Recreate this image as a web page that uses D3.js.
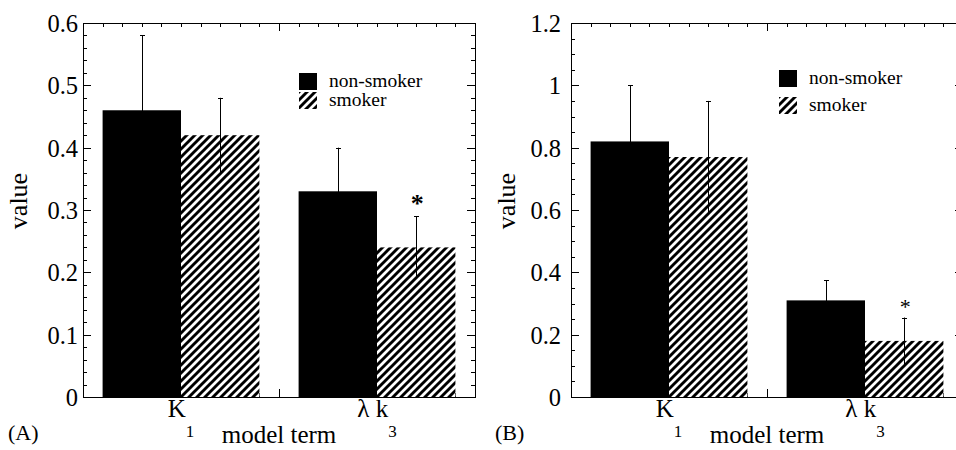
<!DOCTYPE html>
<html>
<head>
<meta charset="utf-8">
<script src="https://cdn.jsdelivr.net/npm/d3@7"></script>
<style>
  body { margin: 0; background: #fff; }
  text { font-family: "Liberation Serif", "Times New Roman", serif; }
</style>
</head>
<body>
<div id="chart"></div>
<script>
const categories = ['K', 'λ k'];
const subscripts = ['1', '3'];
const series = ['non-smoker', 'smoker'];

// panel A
const aNonSmoker = [0.46, 0.33];
const aNonSmokerErr = [0.12, 0.07];
const aSmoker = [0.42, 0.24];
const aSmokerErr = [0.06, 0.05];
const aStars = ['', '*'];

// panel B
const bNonSmoker = [0.82, 0.31];
const bNonSmokerErr = [0.18, 0.065];
const bSmoker = [0.77, 0.18];
const bSmokerErr = [0.18, 0.075];
const bStars = ['', '*'];

const width = 956;
const height = 450;
const plotW = 392;
const plotH = 374;
const serif = '"Liberation Serif", "Times New Roman", serif';

const svg = d3.select('#chart')
  .append('svg')
  .attr('width', width)
  .attr('height', height)
  .attr('font-family', serif);

// diagonal hatch for smokers
const pattern = svg.append('defs')
  .append('pattern')
  .attr('id', 'hatch')
  .attr('patternUnits', 'userSpaceOnUse')
  .attr('width', 8)
  .attr('height', 8);
pattern.append('rect').attr('width', 8).attr('height', 8).attr('fill', '#fff');
pattern.append('path')
  .attr('d', 'M-2,2 l4,-4 M0,8 l8,-8 M6,10 l4,-4')
  .attr('stroke', '#000')
  .attr('stroke-width', 2.9);

const fills = d3.scaleOrdinal(series, ['#000', 'url(#hatch)']);

const panels = [
  {
    left: 83, max: 0.6, major: 0.1, minor: 0.02, letter: '(A)', letterX: 8,
    values: [aNonSmoker, aSmoker], errs: [aNonSmokerErr, aSmokerErr], stars: aStars,
    legendX: 216, legendY: [50, 69], starSize: 26, starWeight: 'bold', labelGap: 5
  },
  {
    left: 571, max: 1.2, major: 0.2, minor: 0.05, letter: '(B)', letterX: 495,
    values: [bNonSmoker, bSmoker], errs: [bNonSmokerErr, bSmokerErr], stars: bStars,
    legendX: 208, legendY: [47, 74], starSize: 22, starWeight: 'normal', labelGap: 10
  }
];

panels.forEach(p => {
  const g = svg.append('g').attr('transform', `translate(${p.left}, 23)`);

  const y = d3.scaleLinear().domain([0, p.max]).range([plotH, 0]);
  const x = d3.scaleBand().domain(categories).range([0, plotW]);
  const xSub = d3.scaleBand().domain(series).range([0, x.bandwidth()]).paddingOuter(0.25);
  const xLin = d3.scaleLinear().domain([0, 2]).range([0, plotW]);

  const yMajor = d3.range(0, p.max + 1e-9, p.major);
  const yMinor = d3.range(0, p.max + 1e-9, p.minor);
  const xMinor = d3.range(0, 2.0001, 0.1);

  // y tick labels
  const left = g.append('g')
    .call(d3.axisLeft(y).tickValues(yMajor).tickSize(0).tickPadding(p.labelGap).tickFormat(d3.format('~g')));
  left.attr('font-family', serif);
  left.select('.domain').remove();
  left.selectAll('text').attr('font-size', 24.5).attr('fill', '#000').attr('dy', '0.34em');

  // inward ticks on all four sides
  const tickG = g.append('g').attr('stroke', '#000').attr('stroke-width', 1);
  [0, plotW].forEach((edge, k) => {
    const dir = k === 0 ? 1 : -1;
    tickG.selectAll(null).data(yMinor).enter().append('line')
      .attr('x1', edge).attr('x2', edge + dir * 4)
      .attr('y1', d => Math.round(y(d)) + 0.5).attr('y2', d => Math.round(y(d)) + 0.5);
    tickG.selectAll(null).data(yMajor).enter().append('line')
      .attr('x1', edge).attr('x2', edge + dir * 8)
      .attr('y1', d => Math.round(y(d)) + 0.5).attr('y2', d => Math.round(y(d)) + 0.5);
  });
  [0, plotH].forEach((edge, k) => {
    const dir = k === 0 ? 1 : -1;
    tickG.selectAll(null).data(xMinor).enter().append('line')
      .attr('x1', d => Math.round(xLin(d)) + 0.5).attr('x2', d => Math.round(xLin(d)) + 0.5)
      .attr('y1', edge).attr('y2', d => edge + dir * (Math.abs(d - 1) < 1e-6 ? 8 : 4));
  });

  // bars
  const groups = g.selectAll('.cat')
    .data(categories)
    .enter().append('g')
    .attr('transform', d => `translate(${x(d)}, 0)`);

  series.forEach((s, si) => {
    groups.append('rect')
      .attr('x', xSub(s))
      .attr('width', xSub.bandwidth())
      .attr('y', (d, i) => y(p.values[si][i]))
      .attr('height', (d, i) => plotH - y(p.values[si][i]))
      .attr('fill', fills(s));
  });

  // error bars
  series.forEach((s, si) => {
    const cx = Math.round(xSub(s) + xSub.bandwidth() / 2);
    groups.append('line')
      .attr('x1', cx + 0.5).attr('x2', cx + 0.5)
      .attr('y1', (d, i) => y(p.values[si][i] - p.errs[si][i]))
      .attr('y2', (d, i) => y(p.values[si][i] + p.errs[si][i]))
      .attr('stroke', '#000').attr('stroke-width', 1);
    groups.append('line')
      .attr('x1', cx - 2).attr('x2', cx + 3)
      .attr('y1', (d, i) => Math.round(y(p.values[si][i] + p.errs[si][i])) + 0.5)
      .attr('y2', (d, i) => Math.round(y(p.values[si][i] + p.errs[si][i])) + 0.5)
      .attr('stroke', '#000').attr('stroke-width', 1);
  });

  // significance star above the smoker error bar
  groups.append('text')
    .attr('x', xSub('smoker') + xSub.bandwidth() / 2 + 1)
    .attr('y', (d, i) => y(p.values[1][i] + p.errs[1][i]) - 4)
    .attr('text-anchor', 'middle')
    .attr('font-size', p.starSize)
    .attr('font-weight', p.starWeight)
    .text((d, i) => p.stars[i]);

  // frame
  g.append('rect')
    .attr('x', 0.5).attr('y', 0.5)
    .attr('width', plotW).attr('height', plotH)
    .attr('fill', 'none').attr('stroke', '#000').attr('stroke-width', 1);

  // category labels with subscripts
  const catText = groups.append('text')
    .attr('x', x.bandwidth() / 2)
    .attr('y', plotH + 20)
    .attr('text-anchor', 'middle')
    .attr('font-size', 25);
  catText.append('tspan').text(d => d);
  catText.append('tspan')
    .attr('font-size', 17)
    .attr('dx', 0)
    .attr('dy', 20)
    .text((d, i) => subscripts[i]);

  // axis titles
  g.append('text')
    .attr('x', plotW / 2)
    .attr('y', plotH + 46)
    .attr('text-anchor', 'middle')
    .attr('font-size', 25)
    .text('model term');

  g.append('text')
    .attr('transform', `translate(-56, ${plotH / 2 - 9}) rotate(-90)`)
    .attr('text-anchor', 'middle')
    .attr('font-size', 26)
    .text('value');

  svg.append('text')
    .attr('x', p.letterX)
    .attr('y', 440)
    .attr('font-size', 22)
    .text(p.letter);

  // legend
  const legend = g.selectAll('.legend')
    .data(series)
    .enter().append('g')
    .attr('transform', (d, i) => `translate(${p.legendX}, ${p.legendY[i]})`);
  legend.append('rect')
    .attr('width', 18).attr('height', 17)
    .attr('fill', d => fills(d));
  legend.append('text')
    .attr('x', 30).attr('y', 14)
    .attr('font-size', 19.5)
    .text(d => d);
});
</script>
</body>
</html>
